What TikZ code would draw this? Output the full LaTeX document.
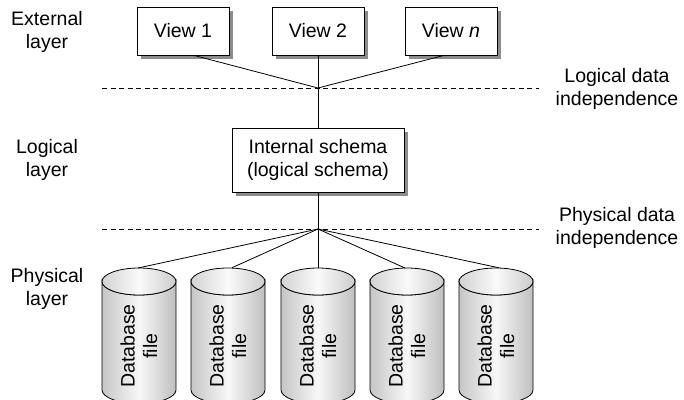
\documentclass[tikz,border=0pt]{standalone}
\usepackage{fontspec}
\setmainfont{Liberation Sans}
\begin{document}
\begin{tikzpicture}[x=1bp,y=-1bp,
  every node/.style={font=\fontsize{19.5bp}{22.5bp}\selectfont, inner sep=0pt},
  viewbox/.style={draw, line width=0.8bp, fill=white, minimum width=92bp, minimum height=48bp},
  schemabox/.style={viewbox, minimum width=172bp, minimum height=64bp, align=center},
  shadowfill/.style={fill=black!45},
  conn/.style={line width=0.8bp},
  sep/.style={dash pattern=on 5bp off 3.5bp, line width=0.8bp},
  lbl/.style={align=center},
  cylbody/.style={draw, line width=0.8bp, left color=gray!45, right color=gray!50, middle color=gray!6},
  cyltop/.style={draw, line width=0.8bp, left color=gray!35, right color=gray!40, middle color=gray!4},
  cyltext/.style={rotate=90, align=center}
]
\useasboundingbox (0,0) rectangle (684,399);

% layer labels
\node[lbl] (ext) at (47,32) {External\\layer};
\node[lbl] (log) at (47,160) {Logical\\layer};
\node[lbl] (phy) at (47,289) {Physical\\layer};
\node[lbl] (ldi) at (617,89) {Logical data\\independence};
\node[lbl] (pdi) at (617,228) {Physical data\\independence};

% dashed separators
\coordinate (d1a) at (102,88);
\coordinate (d1b) at (539,88);
\coordinate (d2a) at (102,229);
\coordinate (d2b) at (539,229);
\draw[sep] (d1a) -- (d1b);
\draw[sep] (d2a) -- (d2b);

% junctions
\coordinate (j1) at (318,88);
\coordinate (j2) at (318,229);

% shadows
\fill[shadowfill] (140.5,10.5) rectangle (232.5,58.5);
\fill[shadowfill] (275.5,10.5) rectangle (367.5,58.5);
\fill[shadowfill] (408.5,10.5) rectangle (500.5,58.5);
\fill[shadowfill] (235.5,131.5) rectangle (407.5,195.5);

% views
\node[viewbox] (v1) at (183,31) {View 1};
\node[viewbox] (v2) at (318,31) {View 2};
\node[viewbox] (vn) at (451,31) {View \textit{n}};

% internal schema
\node[schemabox] (is) at (318,160) {Internal schema\\(logical schema)};

\draw[conn] ([xshift=11bp]v1.south) -- (j1);
\draw[conn] (v2.south) -- (j1);
\draw[conn] ([xshift=-7bp]vn.south) -- (j1);
\draw[conn] (j1) -- (is.north);
\draw[conn] (is.south) -- (j2);

% cylinders
\foreach \i/\cx in {1/139,2/228,3/318,4/407,5/496}{
  \path[cylbody] (\cx-37,281.5) -- (\cx-37,390)
     arc[start angle=180, end angle=0, x radius=37, y radius=13.5]
     -- (\cx+37,281.5)
     arc[start angle=0, end angle=180, x radius=37, y radius=13.5] -- cycle;
  \path[cyltop] (\cx,281.5) ellipse[x radius=37, y radius=13.5];
  \coordinate (ct\i) at (\cx,268);
  \node[cyltext] (db\i) at (\cx,346) {Database\\file};
}
\draw[conn] (j2) -- ([xshift=-1bp]ct1);
\draw[conn] (j2) -- ([xshift=4bp,yshift=0.3bp]ct2);
\draw[conn] (j2) -- (ct3);
\draw[conn] (j2) -- ([xshift=-2bp]ct4);
\draw[conn] (j2) -- ([xshift=3bp,yshift=0.2bp]ct5);
\end{tikzpicture}
\end{document}
